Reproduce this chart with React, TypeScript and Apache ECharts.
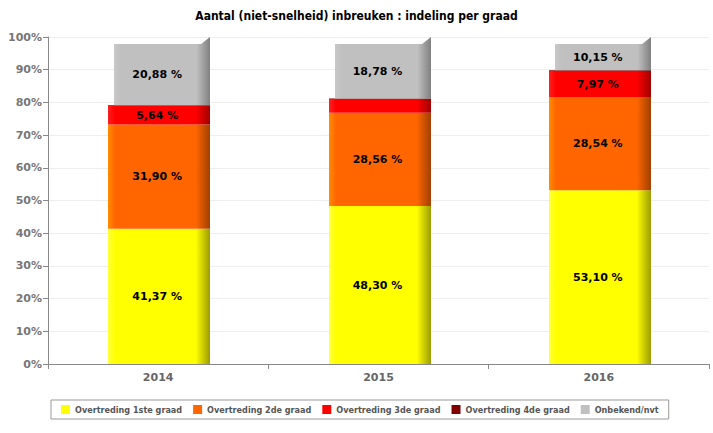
import React, { useEffect, useRef } from "react";
import * as echarts from "echarts";

const categories = ["2014", "2015", "2016"];
const seriesNames = [
  "Overtreding 1ste graad",
  "Overtreding 2de graad",
  "Overtreding 3de graad",
  "Overtreding 4de graad",
  "Onbekend/nvt",
];
const graad1 = [41.37, 48.3, 53.1];
const graad2 = [31.9, 28.56, 28.54];
const graad3 = [5.64, 4.16, 7.97];
const graad4 = [0.21, 0.2, 0.24];
const onbekend = [20.88, 18.78, 10.15];
const colors = ["#FFFF00", "#FF6600", "#FF0000", "#800000", "#C0C0C0"];
const lights = ["#FFFF40", "#FF8C00", "#FF2020", "#900000", "#C8C8C8"];
const sides = ["#9C9C00", "#A04000", "#A00000", "#400000", "#808080"];
const yTicks = [0, 10, 20, 30, 40, 50, 60, 70, 80, 90, 100];

const allSeries = [graad1, graad2, graad3, graad4, onbekend];

function fmt(v: number) {
  return v.toFixed(2).replace(".", ",") + " %";
}

export default function App() {
  const ref = useRef<HTMLDivElement>(null);
  useEffect(() => {
    if (!ref.current) return;
    const chart = echarts.init(ref.current, null, { renderer: "svg" });
    const bases: number[][] = allSeries.map((_, s) =>
      categories.map((_, i) => {
        let b = 0;
        for (let k = 0; k < s; k++) b += allSeries[k][i];
        return b;
      })
    );
    const BW = 102;
    const series: any[] = allSeries.map((vals, s) => ({
      name: seriesNames[s],
      type: "custom",
      itemStyle: { color: colors[s] },
      data: vals.map((v, i) => [i, bases[s][i] + v, bases[s][i], v]),
      renderItem: (params: any, api: any) => {
        const i = api.value(0);
        const topV = api.value(1);
        const baseV = api.value(2);
        const v = api.value(3);
        const p0 = api.coord([i, baseV]);
        const p1 = api.coord([i, topV]);
        const cx = p0[0];
        const L = Math.round(cx - BW / 2 + 1);
        const R = L + BW;
        const T = p1[1];
        const B = p0[1];
        const h = B - T;
        const fill = new echarts.graphic.LinearGradient(0, 0, 1, 0, [
          { offset: 0, color: lights[s] },
          { offset: 0.07, color: colors[s] },
          { offset: 0.86, color: colors[s] },
          { offset: 1, color: sides[s] },
        ]);
        const children: any[] = [];
        if (s === allSeries.length - 1) {
          children.push({
            type: "polygon",
            shape: {
              points: [
                [L + 6, T + 7],
                [R - 9, T + 7],
                [R, T],
                [R, B],
                [L + 6, B],
              ],
            },
            style: { fill },
          });
        } else {
          children.push({
            type: "rect",
            shape: { x: L, y: T, width: BW, height: h },
            style: { fill },
          });
        }
        if (h >= 16) {
          const cy = s === allSeries.length - 1 ? (T + 7 + B) / 2 : (T + B) / 2;
          children.push({
            type: "text",
            style: {
              text: fmt(v),
              x: cx - 1,
              y: cy,
              align: "center",
              verticalAlign: "middle",
              font: "bold 11px 'DejaVu Sans'",
              fill: "#000",
            },
          });
        }
        return { type: "group", children };
      },
    }));
    chart.setOption({
      animation: false,
      title: {
        text: "Aantal (niet-snelheid) inbreuken : indeling per graad",
        left: "center",
        top: 5,
        textStyle: {
          fontFamily: "DejaVu Sans Condensed",
          fontWeight: "bold",
          fontSize: 12,
          color: "#000",
        },
      },
      grid: { left: 48, right: 4, top: 37, bottom: 69 },
      legend: {
        top: 400,
        left: 51,
        padding: [5, 10, 5, 10],
        borderColor: "#999",
        borderWidth: 1,
        itemWidth: 9,
        itemHeight: 9,
        itemGap: 11,
        icon: "rect",
        textStyle: {
          fontFamily: "DejaVu Sans Condensed",
          fontWeight: "bold",
          fontSize: 9,
          color: "#555",
        },
        data: seriesNames,
      },
      xAxis: {
        type: "category",
        data: categories,
        axisLine: { lineStyle: { color: "#888" } },
        axisTick: { show: true, length: 5, lineStyle: { color: "#888" } },
        axisLabel: {
          fontFamily: "DejaVu Sans",
          fontWeight: "bold",
          fontSize: 11,
          color: "#666",
          margin: 8,
        },
      },
      yAxis: {
        type: "value",
        min: yTicks[0],
        max: yTicks[yTicks.length - 1],
        interval: 10,
        axisLine: { show: true, lineStyle: { color: "#888" } },
        axisTick: { show: true, length: 5, lineStyle: { color: "#888" } },
        splitLine: { lineStyle: { color: "#EEE" } },
        axisLabel: {
          formatter: "{value}%",
          fontFamily: "DejaVu Sans",
          fontWeight: "bold",
          fontSize: 11,
          color: "#777",
          margin: 6,
        },
      },
      series,
    });
    return () => chart.dispose();
  }, []);
  return <div ref={ref} style={{ width: 713, height: 433, position: "absolute", left: 0, top: 0 }} />;
}
